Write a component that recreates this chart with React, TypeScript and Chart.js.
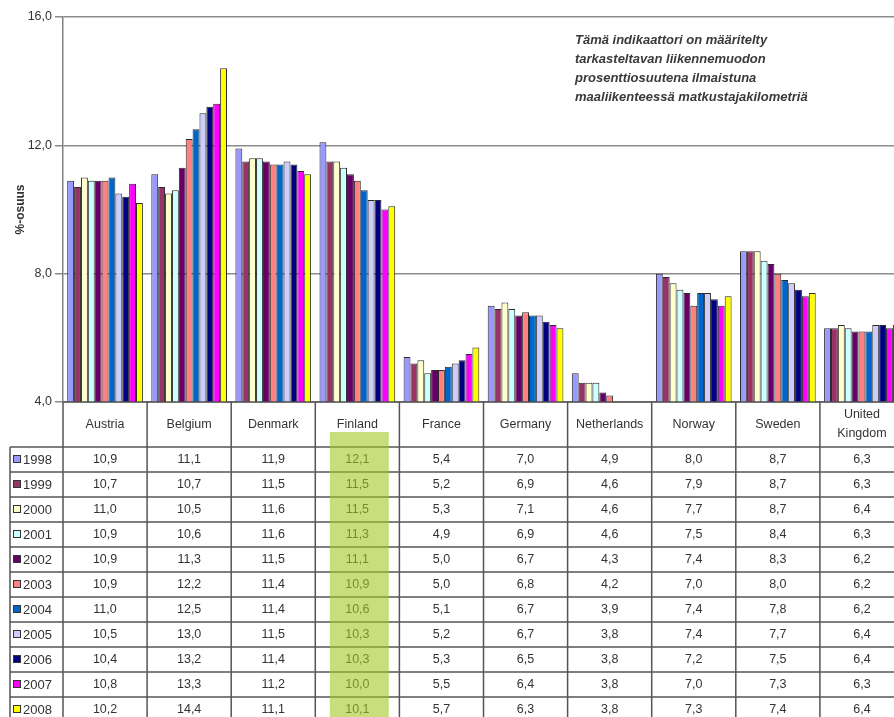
import React, { useEffect, useRef } from "react";
import { Chart, registerables } from "chart.js";

Chart.register(...registerables);

const categories = ["Austria", "Belgium", "Denmark", "Finland", "France", "Germany", "Netherlands", "Norway", "Sweden", "United Kingdom"];
const years = ["1998", "1999", "2000", "2001", "2002", "2003", "2004", "2005", "2006", "2007", "2008"];

const austria = [10.9, 10.7, 11.0, 10.9, 10.9, 10.9, 11.0, 10.5, 10.4, 10.8, 10.2];
const belgium = [11.1, 10.7, 10.5, 10.6, 11.3, 12.2, 12.5, 13.0, 13.2, 13.3, 14.4];
const denmark = [11.9, 11.5, 11.6, 11.6, 11.5, 11.4, 11.4, 11.5, 11.4, 11.2, 11.1];
const finland = [12.1, 11.5, 11.5, 11.3, 11.1, 10.9, 10.6, 10.3, 10.3, 10.0, 10.1];
const france = [5.4, 5.2, 5.3, 4.9, 5.0, 5.0, 5.1, 5.2, 5.3, 5.5, 5.7];
const germany = [7.0, 6.9, 7.1, 6.9, 6.7, 6.8, 6.7, 6.7, 6.5, 6.4, 6.3];
const netherlands = [4.9, 4.6, 4.6, 4.6, 4.3, 4.2, 3.9, 3.8, 3.8, 3.8, 3.8];
const norway = [8.0, 7.9, 7.7, 7.5, 7.4, 7.0, 7.4, 7.4, 7.2, 7.0, 7.3];
const sweden = [8.7, 8.7, 8.7, 8.4, 8.3, 8.0, 7.8, 7.7, 7.5, 7.3, 7.4];
const unitedKingdom = [6.3, 6.3, 6.4, 6.3, 6.2, 6.2, 6.2, 6.4, 6.4, 6.3, 6.4];

const countryValues = [austria, belgium, denmark, finland, france, germany, netherlands, norway, sweden, unitedKingdom];

const yearColors = ["#9999FF", "#993366", "#FFFFCC", "#CCFFFF", "#660066", "#FF8080", "#0066CC", "#CCCCFF", "#000080", "#FF00FF", "#FFFF00"];

const yMin = 4;
const yMax = 16;
const yStep = 4;
const yTitle = "%-osuus";
const highlighted = "Finland";
const noteLines = [
  "Tämä indikaattori on määritelty",
  "tarkasteltavan liikennemuodon",
  "prosenttiosuutena ilmaistuna",
  "maaliikenteessä matkustajakilometriä",
];

const FONT = "'Liberation Sans', Arial, sans-serif";
const fmt = (v: number) => v.toFixed(1).replace(".", ",");

const tablePlugin = {
  id: "dataTable",
  afterDraw(chart: any) {
    const ctx = chart.ctx as CanvasRenderingContext2D;
    const area = chart.chartArea;
    const xs = chart.scales.x;
    const n = categories.length;
    const cw = (area.right - area.left) / n;
    const top = area.bottom;
    const headerH = 45;
    const rowH = 25;
    const rowsTop = top + headerH;
    const legendLeft = 10;
    const bottom = chart.height;
    const right = chart.width;

    ctx.save();
    // note text
    ctx.fillStyle = "#3a3a3a";
    ctx.font = `italic bold 13px ${FONT}`;
    ctx.textAlign = "left";
    ctx.textBaseline = "middle";
    noteLines.forEach((t, i) => ctx.fillText(t, 575, 40 + i * 19));

    // header labels
    ctx.fillStyle = "#333";
    ctx.font = `12.5px ${FONT}`;
    ctx.textAlign = "center";
    categories.forEach((c, i) => {
      const cx = xs.getPixelForValue(i);
      const words = c.split(" ");
      if (ctx.measureText(c).width > cw - 6 && words.length > 1) {
        ctx.fillText(words[0], cx, top + headerH / 2 - 10);
        ctx.fillText(words.slice(1).join(" "), cx, top + headerH / 2 + 9);
      } else {
        ctx.fillText(c, cx, top + headerH / 2);
      }
    });

    // rows
    years.forEach((yr, r) => {
      const cy = rowsTop + r * rowH + rowH / 2;
      ctx.fillStyle = yearColors[r];
      ctx.fillRect(13.5, cy - 4, 7, 7);
      ctx.strokeStyle = "#333";
      ctx.lineWidth = 1;
      ctx.strokeRect(13.5, cy - 4, 7, 7);
      ctx.fillStyle = "#333";
      ctx.textAlign = "left";
      ctx.font = `13px ${FONT}`;
      ctx.fillText(yr, 23, cy + 0.5);
      ctx.textAlign = "center";
      ctx.font = `12.5px ${FONT}`;
      countryValues.forEach((vals, i) => {
        ctx.fillText(fmt(vals[r]), xs.getPixelForValue(i), cy + 0.5);
      });
    });

    // grid lines
    ctx.strokeStyle = "#555";
    ctx.lineWidth = 1.5;
    ctx.beginPath();
    for (let i = 0; i <= n; i++) {
      const x = area.left + i * cw;
      ctx.moveTo(x, top);
      ctx.lineTo(x, bottom);
    }
    ctx.moveTo(legendLeft, rowsTop);
    ctx.lineTo(legendLeft, bottom);
    for (let r = 0; r <= years.length; r++) {
      const y = rowsTop + r * rowH;
      ctx.moveTo(legendLeft, y);
      ctx.lineTo(right, y);
    }
    ctx.moveTo(area.left, top);
    ctx.lineTo(right, top);
    ctx.stroke();

    // highlight
    const hi = categories.indexOf(highlighted);
    if (hi >= 0) {
      const hx = xs.getPixelForValue(hi) + 2;
      ctx.fillStyle = "rgba(160, 202, 37, 0.6)";
      ctx.fillRect(hx - 29.5, top + 30, 59, bottom - top - 30);
    }
    ctx.restore();
  },
};

export default function App() {
  const ref = useRef<HTMLCanvasElement>(null);
  useEffect(() => {
    if (!ref.current) return;
    const datasets = years.map((yr, r) => ({
      label: yr,
      data: countryValues.map((vals) => vals[r]),
      backgroundColor: yearColors[r],
      borderColor: "#2a2a2a",
      borderWidth: 1,
      barPercentage: 1,
      categoryPercentage: 0.9,
    }));
    const chart = new Chart(ref.current, {
      type: "bar",
      data: { labels: categories, datasets },
      plugins: [tablePlugin],
      options: {
        animation: false,
        responsive: false,
        events: [],
        layout: { padding: { top: 17, bottom: 315, left: 0, right: 0 } },
        plugins: { legend: { display: false }, tooltip: { enabled: false } },
        scales: {
          x: { display: false },
          y: {
            min: yMin,
            max: yMax,
            ticks: {
              stepSize: yStep,
              callback: (v: any) => fmt(Number(v)),
              font: { family: FONT, size: 12.5 },
              color: "#333",
              padding: 3,
            },
            grid: { color: "#8c8c8c", lineWidth: 1.5, tickLength: 8 },
            border: { color: "#808080", width: 1.5 },
            title: {
              display: true,
              text: yTitle,
              font: { family: FONT, size: 12, weight: "bold" },
              color: "#333",
              padding: { top: 13, bottom: 0 },
            },
            afterFit: (s: any) => {
              s.width = 63;
            },
          },
        },
      },
    } as any);
    return () => chart.destroy();
  }, []);
  return (
    <div style={{ position: "absolute", left: 0, top: 0, width: 894, height: 717, overflow: "hidden", background: "#fff" }}>
      <canvas ref={ref} width={904} height={717} style={{ width: 904, height: 717, display: "block" }} />
    </div>
  );
}
